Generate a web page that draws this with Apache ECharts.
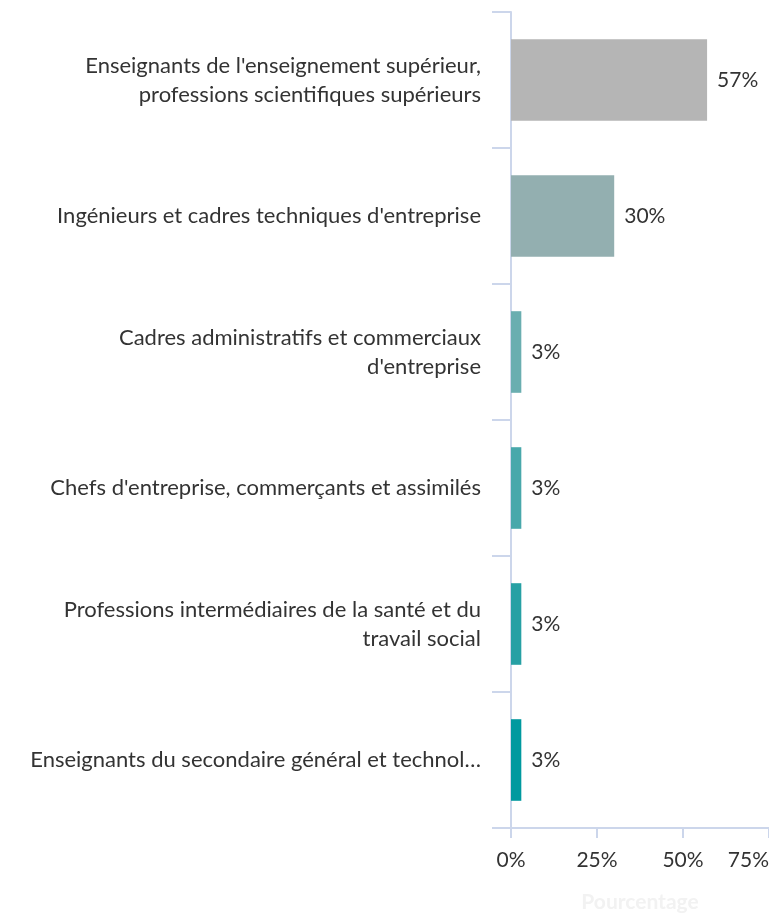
<!DOCTYPE html>
<html>
<head>
<meta charset="utf-8">
<script src="https://cdn.jsdelivr.net/npm/echarts@6/dist/echarts.min.js"></script>
<style>
  html, body { margin: 0; padding: 0; background: #fff; }
  #chart { width: 769px; height: 914px; }
</style>
</head>
<body>
<div id="chart"></div>
<script>
// categories (top to bottom), as shown on the chart
const categories = [
  "Enseignants de l'enseignement supérieur,\nprofessions scientifiques supérieurs",
  "Ingénieurs et cadres techniques d'entreprise",
  "Cadres administratifs et commerciaux\nd'entreprise",
  "Chefs d'entreprise, commerçants et assimilés",
  "Professions intermédiaires de la santé et du\ntravail social",
  "Enseignants du secondaire général et technol…"
];
const values = [57, 30, 3, 3, 3, 3];
const barColors = ["#b5b5b5", "#93afb0", "#6aaeb0", "#48a8ab", "#26a0a4", "#00999f"];
const xTicks = [0, 25, 50, 75];

const chart = echarts.init(document.getElementById("chart"));

const option = {
  animation: false,
  textStyle: { fontFamily: "Lato" },
  grid: { left: 511, right: 0, top: 12, bottom: 86, outerBoundsMode: "none", containLabel: false },
  xAxis: {
    type: "value",
    min: xTicks[0],
    max: xTicks[xTicks.length - 1],
    interval: 25,
    name: "Pourcentage",
    nameLocation: "middle",
    nameGap: 64,
    nameTextStyle: { color: "#f2f2f2", fontSize: 21, fontWeight: "bold" },
    axisLine: { show: true, lineStyle: { color: "#ccd6eb", width: 2 } },
    axisTick: { show: true, length: 10, lineStyle: { color: "#ccd6eb", width: 2 } },
    axisLabel: { formatter: "{value}%", color: "#333", fontSize: 21, margin: 22, alignMaxLabel: "right" },
    splitLine: { show: false }
  },
  yAxis: {
    type: "category",
    data: categories,
    inverse: true,
    axisLine: { show: true, lineStyle: { color: "#ccd6eb", width: 2 } },
    axisTick: { show: true, length: 19, lineStyle: { color: "#ccd6eb", width: 2 } },
    axisLabel: { color: "#333", fontSize: 22, lineHeight: 29, margin: 30, align: "right" }
  },
  series: [{
    type: "bar",
    barWidth: "60%",
    data: values.map((v, i) => ({ value: v, itemStyle: { color: barColors[i] } })),
    label: {
      show: true,
      position: "right",
      distance: 10,
      formatter: "{c}%",
      color: "#333",
      fontSize: 21
    }
  }]
};

chart.setOption(option);
</script>
</body>
</html>
